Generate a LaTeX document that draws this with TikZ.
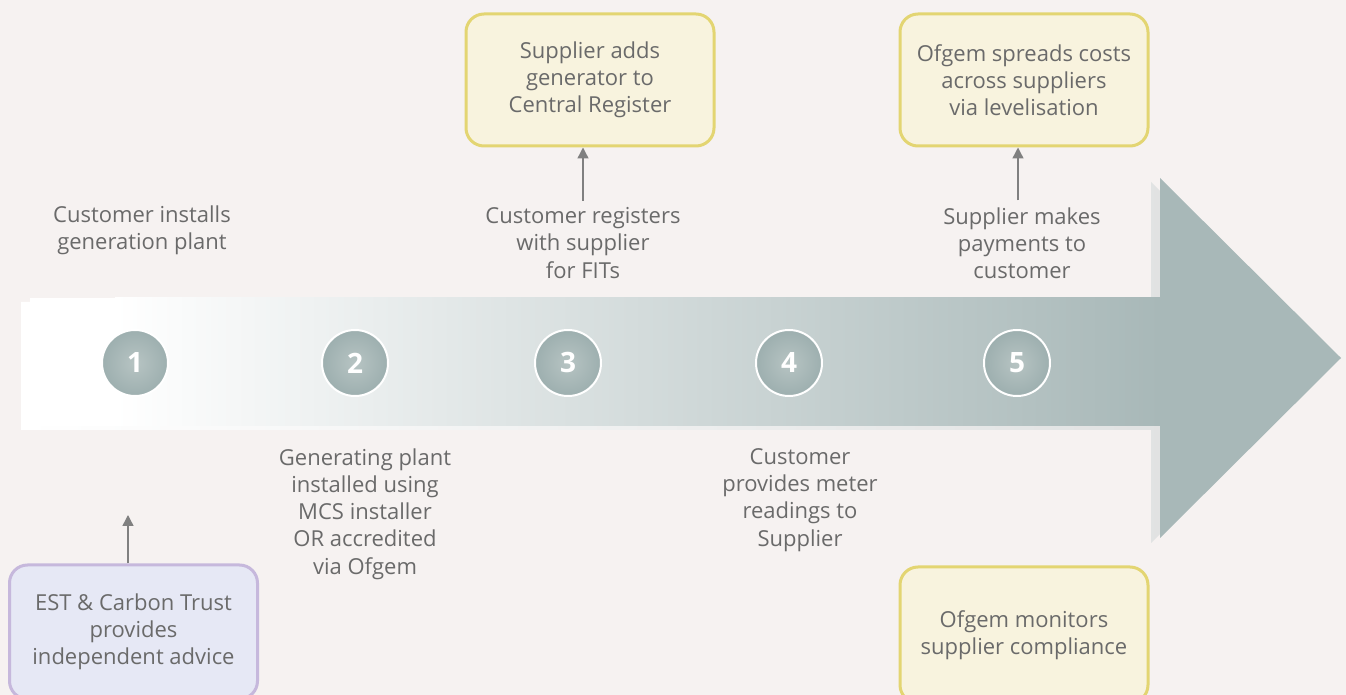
\documentclass[tikz,border=0pt]{standalone}
\usepackage{fontspec}
\setmainfont{Open Sans}
\usetikzlibrary{arrows.meta, positioning}
\usepackage{xcolor}
\definecolor{bgcol}{HTML}{F6F2F1}
\definecolor{txtgray}{HTML}{6A6A6A}
\definecolor{arrowgray}{HTML}{A8B8B8}
\definecolor{shadowgray}{HTML}{DCDEDE}
\definecolor{yellowfill}{HTML}{F8F3DE}
\definecolor{yellowline}{HTML}{E3D572}
\definecolor{lilacfill}{HTML}{E6E8F5}
\definecolor{lilacline}{HTML}{C6B8DC}
\definecolor{linkgray}{HTML}{808080}
\definecolor{circlein}{HTML}{B7C4C3}
\definecolor{circleout}{HTML}{9DAFAF}

\begin{document}
\begin{tikzpicture}[x=0.5pt, y=-0.5pt,
    every node/.style={text=txtgray, font=\fontsize{11}{13.6}\selectfont, align=center},
    yellowbox/.style={draw=yellowline, fill=yellowfill, line width=1.5pt, rounded corners=9pt, minimum width=124pt, minimum height=66pt},
    lilacbox/.style={draw=lilacline, fill=lilacfill, line width=1.5pt, rounded corners=9pt, minimum width=124pt, minimum height=66pt},
    stepcircle/.style={circle, draw=white, line width=1pt, inner color=circlein, outer color=circleout, minimum size=33pt, text=white, font=\fontsize{14}{14}\selectfont\bfseries},
    link/.style={draw=linkgray, line width=0.7pt, -{Triangle[length=5.5pt, width=5.5pt]}}]
			\clip (0,0) rectangle (1346,695);
			\fill[bgcol] (0,0) rectangle (1346,695);

			% arrow with its shadow
			\shade[left color=white, right color=shadowgray] (21,302) -- (1151,302) -- (1151,182) -- (1332,362) -- (1151,543) -- (1151,430) -- (21,430) -- cycle;
			\fill[arrowgray] (1150,298) -- (1160,298) -- (1160,178) -- (1341,358) -- (1160,538) -- (1160,426) -- (1150,426) -- cycle;
			\fill[white] (30,298) rectangle (116,426);
			\shade[left color=white, right color=arrowgray] (115,298) rectangle (1161,426);

			\node[stepcircle] (s1) at (135,363) {1};
			\node[stepcircle] (s2) at (355,363) {2};
			\node[stepcircle] (s3) at (568,363) {3};
			\node[stepcircle] (s4) at (789,363) {4};
			\node[stepcircle] (s5) at (1017,363) {5};

			\node (install) at (142,230) {Customer installs\\generation plant};
			\node (register) at (583,243) {Customer registers\\with supplier\\for FITs};
			\node (payment) at (1022,243) {Supplier makes\\payments to\\customer};
			\node (mcs) at (365,514) {Generating plant\\installed using\\MCS installer\\OR accredited\\via Ofgem};
			\node (meter) at (800,500) {Customer\\provides meter\\readings to\\Supplier};

			\node[yellowbox] (central) at (590,80) {Supplier adds\\generator to\\Central Register};
			\node[yellowbox] (levelise) at (1024,80) {Ofgem spreads costs\\across suppliers\\via levelisation};
			\node[yellowbox, minimum height=68pt] (monitor) at (1024,635) {Ofgem monitors\\supplier compliance};
			\node[lilacbox, minimum height=67pt] (advice) at (133.5,632) {EST \& Carbon Trust\\provides\\independent advice};

			\coordinate (advicetip) at (128,515);
			\draw[link] (advice.north -| advicetip) -- (advicetip);
			\draw[link] (register.north) -- (register.north |- central.south);
			\draw[link] (payment.north -| 1018,0) -- (levelise.south -| 1018,0);
		\end{tikzpicture}
\end{document}
